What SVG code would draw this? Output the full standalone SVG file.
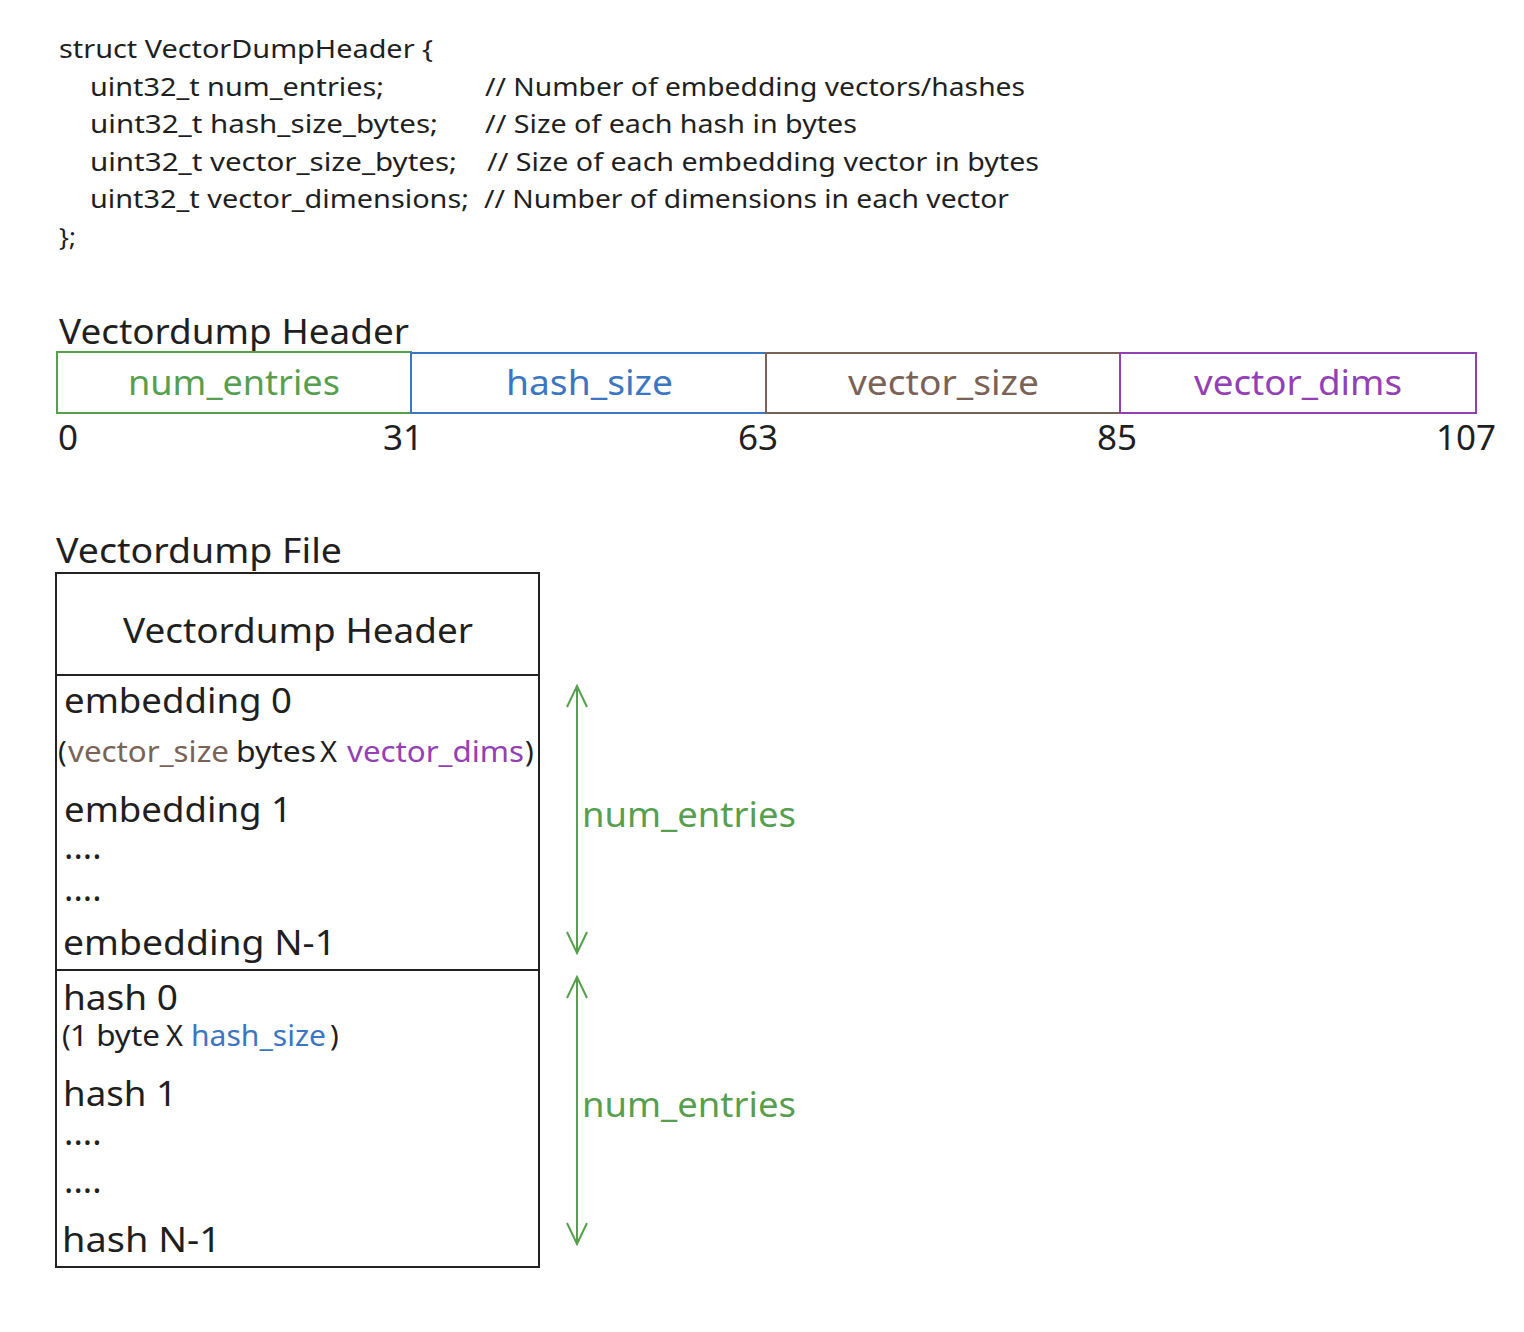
<svg xmlns="http://www.w3.org/2000/svg" width="1524" height="1332" viewBox="0 0 1524 1332">
<defs>
<style>
text{font-family:"Noto Sans","Open Sans","Liberation Sans",sans-serif;fill:#1f1f1f}
.code{font-size:26px}
.big{font-size:35px}
.sub{font-size:29px}
.g{fill:#569f4e}.b{fill:#3b76c3}.br{fill:#7b6257}.p{fill:#9440b5}
.box{fill:none;stroke:#222;stroke-width:2}
</style>
<marker id="ah" viewBox="0 0 24 24" refX="22" refY="12" markerWidth="24" markerHeight="24" markerUnits="userSpaceOnUse" orient="auto-start-reverse">
<path d="M1 2 L22 12 L1 22" fill="none" stroke="#569f4e" stroke-width="2"/>
</marker>
</defs>
<rect width="1524" height="1332" fill="#fff"/>
<g id="struct">
<text class="code" x="59" y="58" textLength="374" lengthAdjust="spacingAndGlyphs">struct VectorDumpHeader {</text>
<text class="code" x="90" y="96" textLength="294" lengthAdjust="spacingAndGlyphs">uint32_t num_entries;</text>
<text class="code" x="485" y="96" textLength="540" lengthAdjust="spacingAndGlyphs">// Number of embedding vectors/hashes</text>
<text class="code" x="90" y="133" textLength="348" lengthAdjust="spacingAndGlyphs">uint32_t hash_size_bytes;</text>
<text class="code" x="485" y="133" textLength="372" lengthAdjust="spacingAndGlyphs">// Size of each hash in bytes</text>
<text class="code" x="90" y="171" textLength="367" lengthAdjust="spacingAndGlyphs">uint32_t vector_size_bytes;</text>
<text class="code" x="487" y="171" textLength="552" lengthAdjust="spacingAndGlyphs">// Size of each embedding vector in bytes</text>
<text class="code" x="90" y="208" textLength="379" lengthAdjust="spacingAndGlyphs">uint32_t vector_dimensions;</text>
<text class="code" x="484" y="208" textLength="525" lengthAdjust="spacingAndGlyphs">// Number of dimensions in each vector</text>
<text class="code" x="59" y="246">};</text>
</g>
<g id="header-layout">
<text class="big" x="59" y="344" textLength="350" lengthAdjust="spacingAndGlyphs">Vectordump Header</text>
<g id="f-num-entries">
<rect x="57" y="352" width="354" height="61" fill="none" stroke="#569f4e" stroke-width="2"/>
<text class="big g" x="128" y="395" textLength="212" lengthAdjust="spacingAndGlyphs">num_entries</text>
</g>
<g id="f-hash-size">
<rect x="411" y="353" width="355" height="60" fill="none" stroke="#3b76c3" stroke-width="2"/>
<text class="big b" x="506" y="395" textLength="167" lengthAdjust="spacingAndGlyphs">hash_size</text>
</g>
<g id="f-vector-size">
<rect x="766" y="353" width="354" height="60" fill="none" stroke="#7b6257" stroke-width="2"/>
<text class="big br" x="848" y="395" textLength="191" lengthAdjust="spacingAndGlyphs">vector_size</text>
</g>
<g id="f-vector-dims">
<rect x="1120" y="353" width="356" height="60" fill="none" stroke="#9440b5" stroke-width="2"/>
<text class="big p" x="1194" y="395" textLength="208" lengthAdjust="spacingAndGlyphs">vector_dims</text>
</g>
<text class="big" x="58" y="450">0</text>
<text class="big" x="403" y="450" text-anchor="middle">31</text>
<text class="big" x="758" y="450" text-anchor="middle">63</text>
<text class="big" x="1117" y="450" text-anchor="middle">85</text>
<text class="big" x="1466" y="450" text-anchor="middle">107</text>
</g>
<g id="file-layout">
<text class="big" x="56" y="563" textLength="286" lengthAdjust="spacingAndGlyphs">Vectordump File</text>
<g id="file-header">
<rect class="box" x="56" y="573" width="483" height="102"/>
<text class="big" x="123" y="643" textLength="350" lengthAdjust="spacingAndGlyphs">Vectordump Header</text>
</g>
<g id="embeddings">
<rect class="box" x="56" y="675" width="483" height="295"/>
<text class="big" x="64" y="713" textLength="228" lengthAdjust="spacingAndGlyphs">embedding 0</text>
<text class="sub" x="58" y="762">(</text>
<text class="sub br" x="68" y="762" textLength="161" lengthAdjust="spacingAndGlyphs">vector_size</text>
<text class="sub" x="236" y="762" textLength="80" lengthAdjust="spacingAndGlyphs">bytes</text>
<text class="sub" x="320" y="762">X</text>
<text class="sub p" x="347" y="762" textLength="177" lengthAdjust="spacingAndGlyphs">vector_dims</text>
<text class="sub" x="525" y="762">)</text>
<text class="big" x="64" y="822" textLength="228" lengthAdjust="spacingAndGlyphs">embedding 1</text>
<text class="big" x="64" y="859">....</text>
<text class="big" x="64" y="901">....</text>
<text class="big" x="63" y="955" textLength="273" lengthAdjust="spacingAndGlyphs">embedding N-1</text>
</g>
<g id="hashes">
<rect class="box" x="56" y="970" width="483" height="297"/>
<text class="big" x="63" y="1010" textLength="115" lengthAdjust="spacingAndGlyphs">hash 0</text>
<text class="sub" x="62" y="1046">(</text>
<text class="sub" x="70" y="1046" textLength="90" lengthAdjust="spacingAndGlyphs">1 byte</text>
<text class="sub" x="166" y="1046">X</text>
<text class="sub b" x="191" y="1046" textLength="135" lengthAdjust="spacingAndGlyphs">hash_size</text>
<text class="sub" x="330" y="1046">)</text>
<text class="big" x="63" y="1106" textLength="114" lengthAdjust="spacingAndGlyphs">hash 1</text>
<text class="big" x="64" y="1145">....</text>
<text class="big" x="64" y="1193">....</text>
<text class="big" x="62" y="1252" textLength="159" lengthAdjust="spacingAndGlyphs">hash N-1</text>
</g>
</g>
<g id="connectors">
<line x1="577" y1="686" x2="577" y2="953" stroke="#569f4e" stroke-width="2" marker-start="url(#ah)" marker-end="url(#ah)"/>
<line x1="577" y1="977" x2="577" y2="1244" stroke="#569f4e" stroke-width="2" marker-start="url(#ah)" marker-end="url(#ah)"/>
<text class="big g" x="582" y="827" textLength="214" lengthAdjust="spacingAndGlyphs">num_entries</text>
<text class="big g" x="582" y="1117" textLength="214" lengthAdjust="spacingAndGlyphs">num_entries</text>
</g>
</svg>
